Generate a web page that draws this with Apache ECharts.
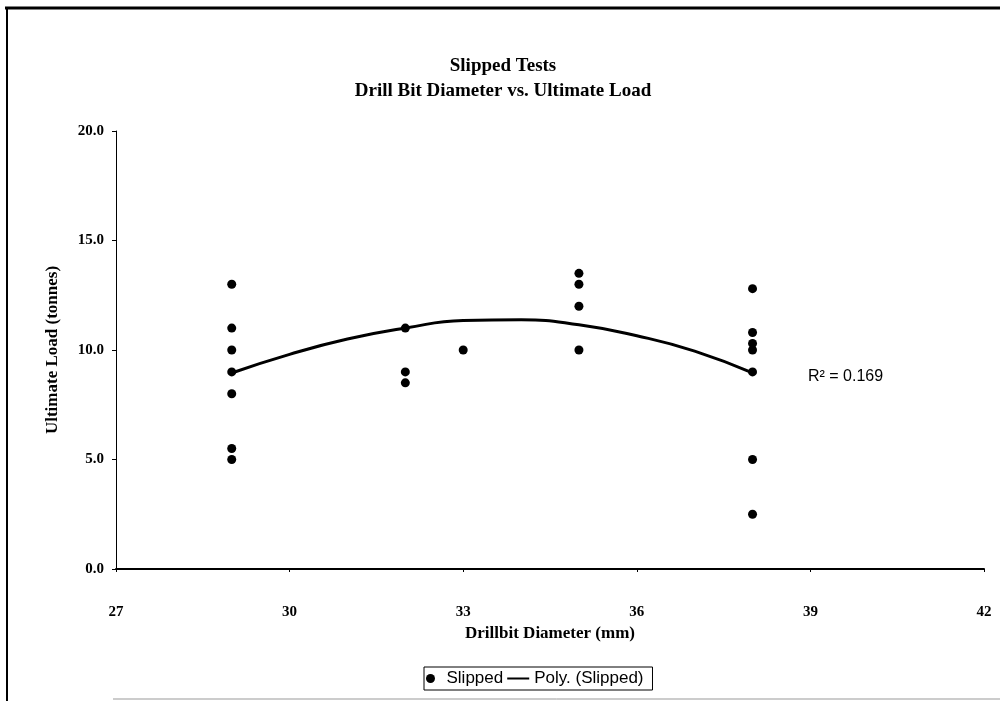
<!DOCTYPE html>
<html>
<head>
<meta charset="utf-8">
<script src="https://cdn.jsdelivr.net/npm/echarts@6/dist/echarts.min.js"></script>
<style>html,body{margin:0;padding:0;background:#fff}#c{width:1000px;height:701px}</style>
</head>
<body>
<div id="c"></div>
<script>
// Data
const diameterX = [29, 29, 29, 29, 29, 29, 29, 32, 32, 32, 33, 35, 35, 35, 35, 38, 38, 38, 38, 38, 38, 38];
const loadY     = [13.0, 11.0, 10.0, 9.0, 8.0, 5.5, 5.0, 11.0, 9.0, 8.5, 10.0, 13.5, 13.0, 12.0, 10.0, 12.8, 10.8, 10.3, 10.0, 9.0, 5.0, 2.5];
// Polynomial trendline (as drawn in the reference)
const trendX = [29, 30, 31, 32, 33, 34, 35, 36, 37, 38];
const trendY = [8.95, 9.8, 10.5, 11.0, 11.35, 11.38, 11.15, 10.65, 9.95, 8.95];
const xTicks = [27, 30, 33, 36, 39, 42];
const yTicks = [0, 5, 10, 15, 20];
const rSquaredText = 'R\u00b2 = 0.169';

const serif = 'Liberation Serif';
const sans = 'Liberation Sans';
const chart = echarts.init(document.getElementById('c'), null, {renderer: 'canvas'});
chart.setOption({
  animation: false,
  backgroundColor: '#fff',
  title: {
    text: 'Slipped Tests\nDrill Bit Diameter vs. Ultimate Load',
    left: 498, top: 49, textAlign: 'center',
    textStyle: {fontFamily: serif, fontWeight: 'bold', fontSize: 19, lineHeight: 25, color: '#000'}
  },
  grid: {left: 116, right: 16, top: 131, bottom: 132, containLabel: false},
  xAxis: {
    type: 'value', min: xTicks[0], max: xTicks[xTicks.length - 1], interval: 3,
    name: 'Drillbit Diameter (mm)', nameLocation: 'middle', nameGap: 56,
    nameTextStyle: {fontFamily: serif, fontWeight: 'bold', fontSize: 17, color: '#000'},
    axisLine: {show: true, onZero: false, lineStyle: {color: '#000', width: 2}},
    axisTick: {show: true, length: 3, lineStyle: {color: '#000'}},
    axisLabel: {fontFamily: serif, fontWeight: 'bold', fontSize: 15, color: '#000', margin: 36},
    splitLine: {show: false}
  },
  yAxis: {
    type: 'value', min: yTicks[0], max: yTicks[yTicks.length - 1], interval: 5,
    name: 'Ultimate Load (tonnes)', nameLocation: 'middle', nameGap: 55, nameRotate: 90,
    nameTextStyle: {fontFamily: serif, fontWeight: 'bold', fontSize: 17, color: '#000'},
    axisLine: {show: true, lineStyle: {color: '#000', width: 1}},
    axisTick: {show: true, length: 4, lineStyle: {color: '#000'}},
    axisLabel: {fontFamily: serif, fontWeight: 'bold', fontSize: 15, color: '#000', margin: 12,
      formatter: v => v.toFixed(1)},
    splitLine: {show: false}
  },
  legend: {
    left: 424, top: 667, orient: 'horizontal',
    borderColor: '#000', borderWidth: 1, padding: [3, 9, 3, 2],
    itemGap: 4, itemWidth: 22, itemHeight: 9,
    textStyle: {fontFamily: sans, fontSize: 17, color: '#000'},
    data: [
      {name: 'Slipped', icon: 'circle'},
      {name: 'Poly. (Slipped)', icon: 'path://M0,0L0.01,0M0,3.6L22,3.6L22,5.4L0,5.4ZM22,9L21.99,9'}
    ]
  },
  series: [
    {
      name: 'Slipped', type: 'scatter', symbol: 'circle', symbolSize: 9,
      itemStyle: {color: '#000', opacity: 1},
      data: diameterX.map((x, i) => [x, loadY[i]]),
      z: 3
    },
    {
      name: 'Poly. (Slipped)', type: 'line', smooth: 0.5, symbol: 'none', showSymbol: false,
      lineStyle: {color: '#000', width: 3},
      itemStyle: {color: '#000'},
      data: trendX.map((x, i) => [x, trendY[i]]),
      z: 2
    }
  ],
  graphic: [
    {type: 'line', shape: {x1: 5, y1: 8, x2: 1000, y2: 8}, style: {stroke: '#000', lineWidth: 3}},
    {type: 'line', shape: {x1: 7, y1: 8, x2: 7, y2: 701}, style: {stroke: '#000', lineWidth: 2}},
    {type: 'line', shape: {x1: 113, y1: 699, x2: 1000, y2: 699}, style: {stroke: '#999', lineWidth: 1}},
    {type: 'text', left: 808, top: 369,
      style: {text: rSquaredText, font: '16px "Liberation Sans"', fill: '#000'}}
  ]
});
</script>
</body>
</html>
